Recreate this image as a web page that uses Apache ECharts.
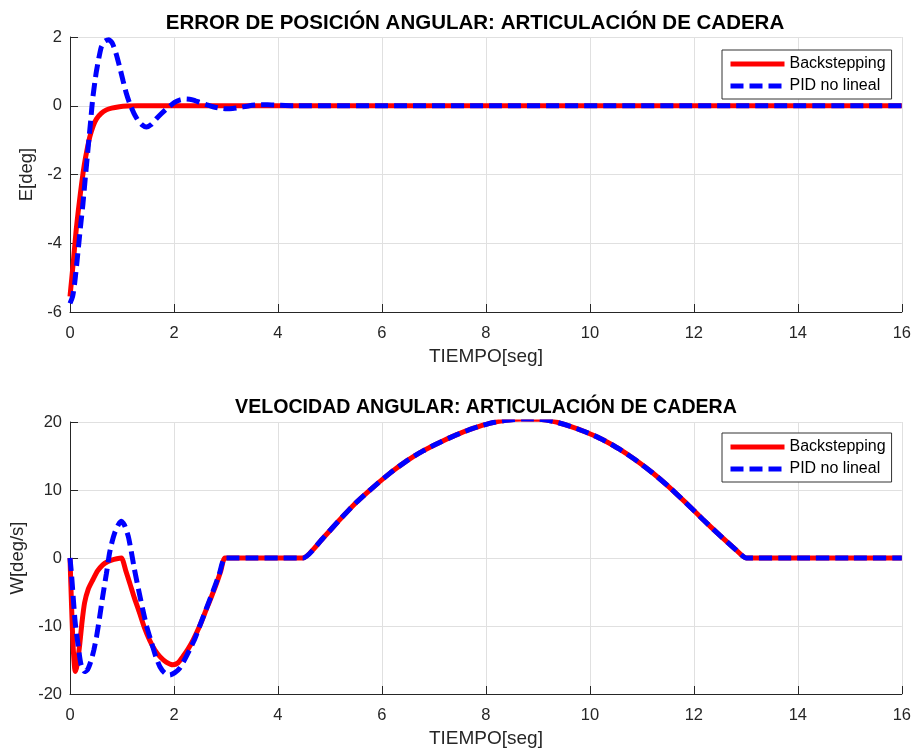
<!DOCTYPE html>
<html>
<head>
<meta charset="utf-8">
<script src="https://cdn.jsdelivr.net/npm/echarts@6/dist/echarts.min.js"></script>
<style>
html,body{margin:0;padding:0;background:#fff;}
#c{width:914px;height:749px;}
</style>
</head>
<body>
<div id="c"></div>
<script>
// ---- Data ----
var xTicks = [0, 2, 4, 6, 8, 10, 12, 14, 16];
var eTicks = [-6, -4, -2, 0, 2];
var wTicks = [-20, -10, 0, 10, 20];

// Top: position error E[deg] vs time
var eBackT = [0, 0.03, 0.06, 0.09, 0.12, 0.16, 0.2, 0.25, 0.3, 0.38, 0.45, 0.51, 0.6, 0.7, 0.8, 0.95, 1.1, 1.3, 16];
var eBackV = [-5.55, -5.08, -4.6, -4.1, -3.6, -3.05, -2.55, -1.97, -1.5, -0.91, -0.57, -0.38, -0.22, -0.12, -0.07, -0.03, -0.01, 0, 0];

var ePidT = [0, 0.05, 0.09, 0.13, 0.17, 0.21, 0.25, 0.3, 0.35, 0.4, 0.44, 0.51, 0.6, 0.67, 0.75, 0.82, 0.89, 0.96, 1.02, 1.08, 1.15, 1.23, 1.31, 1.39, 1.47, 1.56, 1.66, 1.75, 1.85, 1.93, 2.01, 2.12, 2.24, 2.36, 2.49, 2.62, 2.75, 2.88, 3.01, 3.13, 3.26, 3.45, 3.65, 3.8, 3.97, 4.3, 16];
var ePidV = [-5.75, -5.55, -5.16, -4.6, -4.0, -3.4, -2.84, -2.0, -1.2, -0.4, 0.25, 1.02, 1.7, 1.88, 1.92, 1.8, 1.5, 1.1, 0.73, 0.38, 0.06, -0.22, -0.43, -0.56, -0.62, -0.55, -0.38, -0.24, -0.1, 0.0, 0.1, 0.17, 0.2, 0.17, 0.1, 0.03, -0.03, -0.07, -0.09, -0.08, -0.05, 0.0, 0.03, 0.03, 0.02, 0, 0];

// Bottom: angular velocity W[deg/s] vs time
var wBackT = [0, 0.03, 0.06, 0.1, 0.14, 0.19, 0.23, 0.28, 0.35, 0.44, 0.53, 0.63, 0.72, 0.8, 0.9, 0.99, 1.07, 1.15, 1.24, 1.34, 1.43, 1.53, 1.63, 1.73, 1.85, 1.98, 2.08, 2.17, 2.27, 2.37, 2.5, 2.62, 2.72, 2.82, 2.9, 2.98];
var wBackV = [0, -7, -13, -16.7, -15.6, -12.5, -9.5, -6.6, -4.6, -3.2, -1.9, -1.0, -0.55, -0.3, -0.1, 0, -1.8, -3.7, -5.9, -8.1, -10.2, -12.05, -13.5, -14.5, -15.3, -15.7, -15.4, -14.5, -13.4, -12.05, -9.9, -7.6, -5.7, -3.7, -1.9, 0];

var wPidT = [0, 0.03, 0.06, 0.1, 0.15, 0.21, 0.28, 0.34, 0.41, 0.46, 0.51, 0.57, 0.63, 0.7, 0.76, 0.81, 0.86, 0.93, 0.99, 1.05, 1.12, 1.18, 1.24, 1.32, 1.4, 1.48, 1.57, 1.65, 1.73, 1.82, 1.92, 2.01, 2.11, 2.2, 2.3, 2.4, 2.49, 2.62, 2.75, 2.87, 2.98];
var wPidV = [0, -2.5, -5.6, -9.5, -12.5, -15.6, -16.7, -16.4, -15, -13.5, -11.6, -8.7, -5.6, -2.3, 0.7, 2.4, 3.7, 4.9, 5.4, 4.8, 3.2, 0.9, -1.7, -4.7, -7.6, -10.2, -12.5, -14.5, -16, -16.9, -17.2, -16.9, -16.2, -15.0, -13.5, -11.9, -10.1, -7.5, -4.9, -2.4, 0];

// Shared part of both velocity curves after t = 3 s
var wTailT = [3.2, 3.6, 4.0, 4.48, 4.87, 5.19, 5.51, 5.83, 6.15, 6.47, 6.79, 7.11, 7.43, 7.75, 8.07, 8.39, 8.71, 9.03, 9.29, 9.61, 9.93, 10.25, 10.57, 10.9, 11.21, 11.53, 11.85, 12.17, 12.49, 12.81, 13.01, 14, 15, 16];
var wTailV = [0, 0, 0, 0, 2.95, 5.65, 8.2, 10.4, 12.45, 14.25, 15.75, 17.0, 18.1, 19.05, 19.8, 20.25, 20.45, 20.4, 20.1, 19.4, 18.5, 17.4, 16.0, 14.3, 12.5, 10.4, 8.1, 5.7, 3.4, 1.2, 0, 0, 0, 0];

var names = ['Backstepping', 'PID no lineal'];
var titles = ['ERROR DE POSICIÓN ANGULAR: ARTICULACIÓN DE CADERA', 'VELOCIDAD ANGULAR: ARTICULACIÓN DE CADERA'];
var yNames = ['E[deg]', 'W[deg/s]'];
var xName = 'TIEMPO[seg]';

function zip(t, v) { return t.map(function (x, i) { return [x, v[i]]; }); }

var FONT = '"Liberation Sans", Arial, Helvetica, sans-serif';
var AX = '#262626';
var GRIDC = '#e0e0e0';

function xAxisDef(idx) {
  return {
    type: 'value', gridIndex: idx, min: xTicks[0], max: xTicks[xTicks.length - 1], interval: 2,
    name: xName, nameLocation: 'middle', nameGap: 35,
    nameTextStyle: { fontFamily: FONT, fontSize: 19, color: AX },
    axisLine: { show: true, onZero: false, lineStyle: { color: AX, width: 1 } },
    axisTick: { show: true, inside: true, length: 8, lineStyle: { color: AX } },
    axisLabel: { fontFamily: FONT, fontSize: 16.5, color: AX, margin: 13 },
    splitLine: { show: true, lineStyle: { color: GRIDC, width: 1 } }
  };
}
function yAxisDef(idx, ticks, nameGap) {
  return {
    type: 'value', gridIndex: idx, min: ticks[0], max: ticks[ticks.length - 1], interval: ticks[1] - ticks[0],
    name: yNames[idx], nameLocation: 'middle', nameGap: nameGap, nameRotate: 90,
    nameTextStyle: { fontFamily: FONT, fontSize: 18.5, color: AX },
    axisLine: { show: true, onZero: false, lineStyle: { color: AX, width: 1 } },
    axisTick: { show: true, inside: true, length: 8, lineStyle: { color: AX } },
    axisLabel: { fontFamily: FONT, fontSize: 16.5, color: AX, margin: 8 },
    splitLine: { show: true, lineStyle: { color: GRIDC, width: 1 } }
  };
}
function lineSeries(name, data, idx, isPid) {
  var col = isPid ? '#0000ff' : '#ff0000';
  return {
    name: name, type: 'line', xAxisIndex: idx, yAxisIndex: idx, data: data,
    showSymbol: false, symbol: 'none', smooth: 0.2, animation: false,
    z: isPid ? 3 : 2,
    itemStyle: { color: col },
    lineStyle: isPid ? { color: col, width: 5, type: [13, 6] } : { color: col, width: 5 }
  };
}
function legendDef(top) {
  return {
    data: names, orient: 'vertical', left: 722, top: top,
    padding: [5, 6, 4, 6], itemGap: 4, itemWidth: 54, itemHeight: 14,
    backgroundColor: '#fff', borderColor: '#333', borderWidth: 1, borderRadius: 0,
    itemStyle: { opacity: 0 },
    lineStyle: { width: 5 },
    textStyle: { fontFamily: FONT, fontSize: 16, color: '#000', lineHeight: 18 }
  };
}

var chart = echarts.init(document.getElementById('c'), null, { renderer: 'canvas' });
chart.setOption({
  backgroundColor: '#ffffff',
  animation: false,
  title: [
    { text: titles[0], left: 470, top: 8, textAlign: 'center', textStyle: { fontFamily: FONT, fontSize: 20.5, fontWeight: 'bold', color: '#000' } },
    { text: titles[1], left: 481, top: 393, textAlign: 'center', textStyle: { fontFamily: FONT, fontSize: 19.6, fontWeight: 'bold', color: '#000' } }
  ],
  legend: [legendDef(50), legendDef(433)],
  grid: [
    { left: 70, right: 12, top: 37, height: 275 },
    { left: 70, right: 12, top: 422, height: 272 }
  ],
  xAxis: [xAxisDef(0), xAxisDef(1)],
  yAxis: [yAxisDef(0, eTicks, 27), yAxisDef(1, wTicks, 42)],
  series: [
    lineSeries(names[0], zip(eBackT, eBackV), 0, false),
    lineSeries(names[1], zip(ePidT, ePidV), 0, true),
    lineSeries(names[0], zip(wBackT.concat(wTailT), wBackV.concat(wTailV)), 1, false),
    lineSeries(names[1], zip(wPidT.concat(wTailT), wPidV.concat(wTailV)), 1, true)
  ]
});
</script>
</body>
</html>
